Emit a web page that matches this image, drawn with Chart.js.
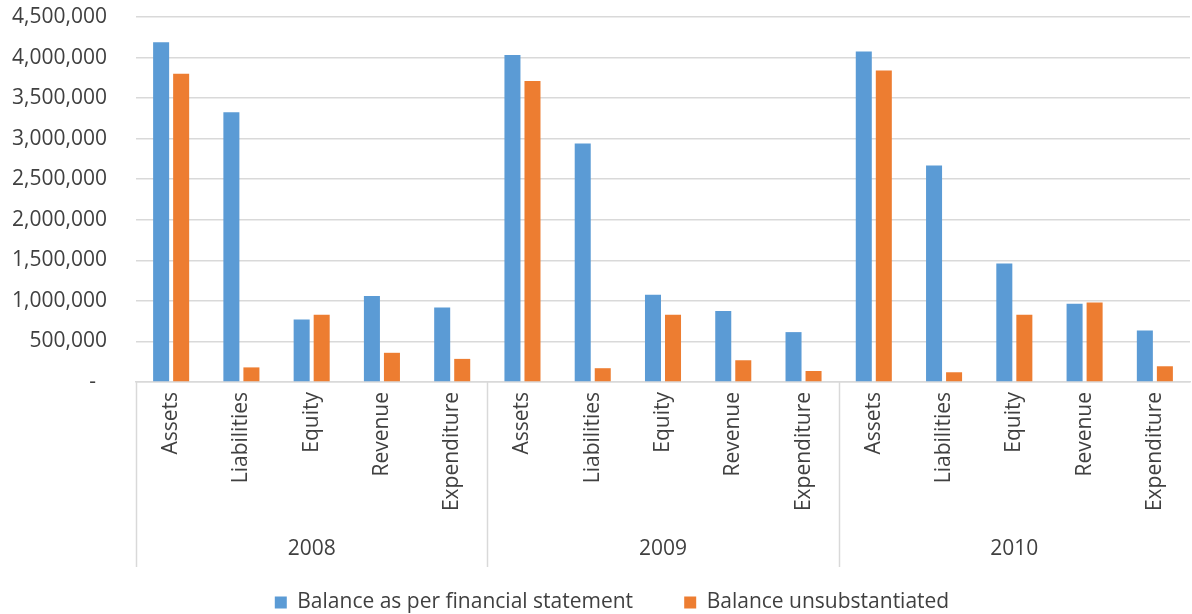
<!DOCTYPE html>
<html>
<head>
<meta charset="utf-8">
<script src="https://cdn.jsdelivr.net/npm/chart.js@4/dist/chart.umd.min.js"></script>
<style>
  html, body { margin: 0; padding: 0; background: #fff; }
  #wrap { width: 1192px; height: 614px; }
</style>
</head>
<body>
<div id="wrap"><canvas id="chart"></canvas></div>
<script>
const years = ["2008", "2009", "2010"];
const items = ["Assets", "Liabilities", "Equity", "Revenue", "Expenditure"];

const perStatement = [
  4190000, 3325000, 770000, 1060000, 920000,
  4030000, 2940000, 1075000, 875000, 615000,
  4075000, 2670000, 1460000, 965000, 635000
];
const unsubstantiated = [
  3800000, 180000, 830000, 360000, 285000,
  3710000, 170000, 830000, 268000, 136000,
  3840000, 120000, 830000, 980000, 194000
];

const yTicks = [0, 500000, 1000000, 1500000, 2000000, 2500000, 3000000, 3500000, 4000000, 4500000];

const FONT = "'Open Sans', sans-serif";
const TXT = "#404040";
const GRID = "#d9d9d9";
const AXIS_H = 208;   // x axis block incl. space above the legend

// one label per bar pair, years repeat the same items
const labels = [];
years.forEach(() => items.forEach(it => labels.push(it)));

const groupAxis = {
  id: "groupAxis",
  afterLayout(chart) {
    // legend in the original sits a bit right of the canvas centre
    if (chart.legend) chart.legend.left += 34;
  },
  afterDraw(chart) {
    const x = chart.scales.x;
    const area = chart.chartArea;
    const ctx = chart.ctx;
    const step = x.getPixelForValue(1) - x.getPixelForValue(0);
    ctx.save();
    ctx.strokeStyle = GRID;
    ctx.lineWidth = 1.5;
    years.forEach((yr, g) => {
      const left = x.getPixelForValue(g * items.length) - step / 2;
      const right = x.getPixelForValue(g * items.length + items.length - 1) + step / 2;
      ctx.beginPath();
      ctx.moveTo(Math.round(left) + 0.5, area.bottom);
      ctx.lineTo(Math.round(left) + 0.5, area.bottom + 185);
      ctx.stroke();
      ctx.fillStyle = TXT;
      ctx.font = "21px " + FONT;
      ctx.textAlign = "center";
      ctx.textBaseline = "middle";
      ctx.fillText(yr, (left + right) / 2, area.bottom + 167);
    });
    ctx.restore();
  }
};

new Chart(document.getElementById("chart"), {
  type: "bar",
  data: {
    labels: labels,
    datasets: [
      {
        label: "Balance as per financial statement",
        data: perStatement,
        backgroundColor: "#5B9BD5",
        categoryPercentage: 0.57,
        barPercentage: 0.8
      },
      {
        label: "Balance unsubstantiated",
        data: unsubstantiated,
        backgroundColor: "#ED7D31",
        categoryPercentage: 0.57,
        barPercentage: 0.8
      }
    ]
  },
  options: {
    responsive: true,
    maintainAspectRatio: false,
    animation: false,
    layout: { padding: { top: 17, right: 2, left: 0, bottom: -9 } },
    plugins: {
      legend: {
        position: "bottom",
        labels: {
          font: { family: FONT, size: 21, lineHeight: 1 },
          color: TXT,
          boxWidth: 12,
          boxHeight: 12,
          padding: 2,
          generateLabels(chart) {
            const base = Chart.defaults.plugins.legend.labels.generateLabels(chart);
            // trailing spaces give the wide gap between the two entries
            base[0].text = base[0].text + "         ";
            return base;
          }
        }
      },
      tooltip: { enabled: false }
    },
    scales: {
      x: {
        grid: { display: false, drawTicks: false },
        border: { color: GRID, width: 1.5 },
        ticks: {
          font: { family: FONT, size: 21 },
          color: TXT,
          minRotation: 90,
          maxRotation: 90,
          autoSkip: false,
          padding: 10
        },
        afterFit(scale) { scale.height = AXIS_H; }
      },
      y: {
        min: 0,
        max: 4500000,
        grid: { color: GRID, lineWidth: 1.5, drawTicks: false },
        border: { display: false },
        afterBuildTicks(scale) { scale.ticks = yTicks.map(v => ({ value: v })); },
        ticks: {
          font: { family: FONT, size: 21 },
          color: TXT,
          padding: 29,
          callback: v => v === 0 ? "-  " : v.toLocaleString("en-US")
        },
        afterFit(scale) {
          scale.width = 136;
          scale.paddingTop = 0;
          scale.paddingBottom = 0;
        }
      }
    }
  },
  plugins: [groupAxis]
});
</script>
</body>
</html>
